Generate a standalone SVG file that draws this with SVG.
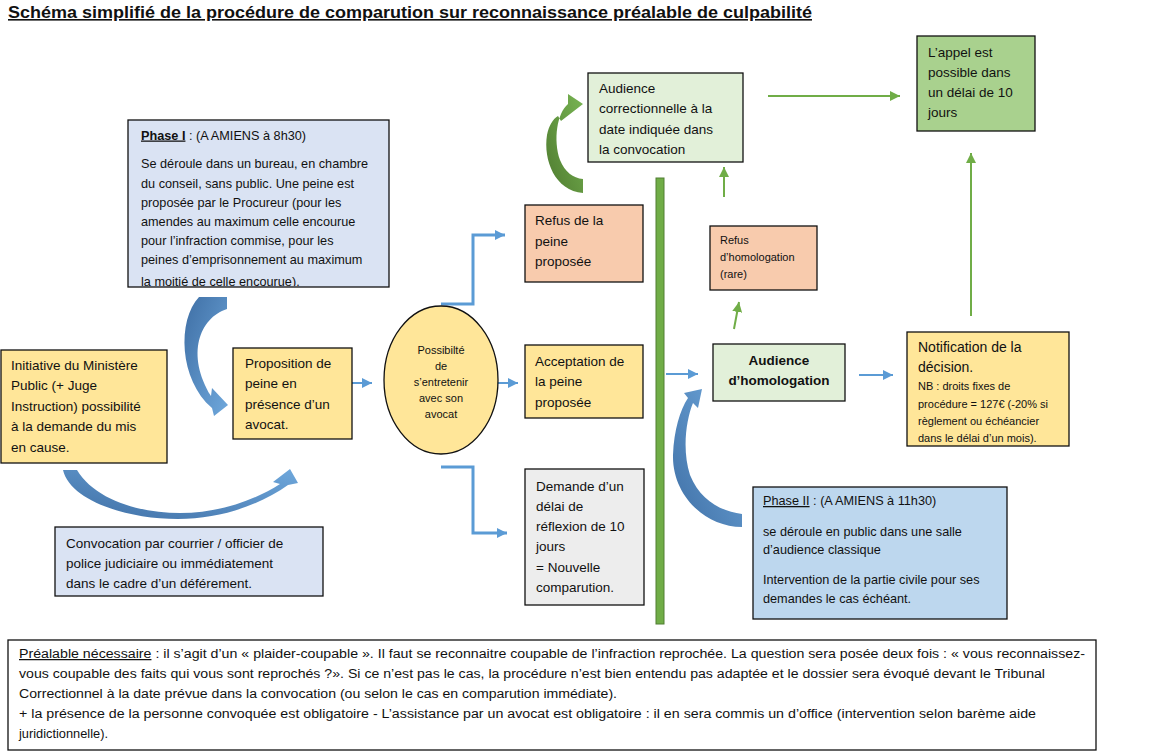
<svg xmlns="http://www.w3.org/2000/svg" width="1152" height="754" viewBox="0 0 1152 754">
<style>
text{font-family:"Liberation Sans",Arial,sans-serif;fill:#111;}
.t{font-size:13.5px;}
.s{font-size:12.7px;}
.xs{font-size:11px;}
.b{stroke:#111;stroke-width:1.3;}
.blue{fill:#dae3f3;}
.blue2{fill:#bdd7ee;}
.yel{fill:#ffe699;}
.peach{fill:#f8cbad;}
.lgreen{fill:#e2f0d9;}
.green{fill:#a9d18e;}
.gray{fill:#ededed;}
.cb{fill:none;stroke:#5b9bd5;stroke-width:2;}
.cb3{fill:none;stroke:#5b9bd5;stroke-width:3;}
.cg{fill:none;stroke:#70ad47;stroke-width:2;}
</style>
<defs>
<marker id="hb" markerUnits="userSpaceOnUse" markerWidth="11" markerHeight="11" refX="10" refY="5" orient="auto"><path d="M0,0 L10,5 L0,10 z" fill="#5b9bd5"/></marker>
<marker id="hg" markerUnits="userSpaceOnUse" markerWidth="11" markerHeight="11" refX="10" refY="5" orient="auto"><path d="M0,0 L10,5 L0,10 z" fill="#70ad47"/></marker>
<linearGradient id="gb" x1="0" y1="0" x2="1" y2="1"><stop offset="0" stop-color="#3f6fa5"/><stop offset="1" stop-color="#6fa8dc"/></linearGradient>
<linearGradient id="gb2" x1="0" y1="1" x2="1" y2="0"><stop offset="0" stop-color="#3f6fa5"/><stop offset="1" stop-color="#6fa8dc"/></linearGradient>
<linearGradient id="gg" x1="0" y1="1" x2="1" y2="0"><stop offset="0" stop-color="#4e7a2f"/><stop offset="1" stop-color="#78b553"/></linearGradient>
<clipPath id="c1"><rect x="128" y="120" width="261" height="166"/></clipPath>
</defs>

<text x="8" y="18" font-size="16" font-weight="bold" text-decoration="underline" textLength="804" lengthAdjust="spacingAndGlyphs">Schéma simplifié de la procédure de comparution sur reconnaissance préalable de culpabilité</text>

<g id="connectors">
<path class="cb" d="M338,383 L372,383" marker-end="url(#hb)"/>
<path class="cb" d="M483,383 L518,383" marker-end="url(#hb)"/>
<path class="cb3" d="M441,304 L473,304 L473,235 L505,235" marker-end="url(#hb)"/>
<path class="cb3" d="M441,467 L473,467 L473,533 L507,533" marker-end="url(#hb)"/>
<path class="cb" d="M666,374 L698,374" marker-end="url(#hb)"/>
<path class="cb" d="M859,375 L893,375" marker-end="url(#hb)"/>
<path class="cg" d="M734,329 L739,302" marker-end="url(#hg)"/>
<path class="cg" d="M724,197 L724,167" marker-end="url(#hg)"/>
<path class="cg" d="M768,96 L900,96" marker-end="url(#hg)"/>
<path class="cg" d="M971,316 L971,153" marker-end="url(#hg)"/>
<path fill="url(#gb)" d="M199,297 L227,297 L227,309 C199,318 186,355 211,396 L212,388 L228,405 L214,416 L212,408 C179,380 177,320 199,297 Z"/>
<path fill="url(#gb2)" d="M63,470 L77,470 C95,500 140,513 180,513 C220,513 255,500 280,484 L273,482 L290,469 L298,483 L288,485 C260,505 220,519 178,519 C125,519 70,500 63,470 Z"/>
<path fill="url(#gg)" d="M583,179 L583,193 C555,191 543,160 547,135 C549,125 553,119 558,116 L561,121 L583,104 L568,94 L568,104 C557,113 553,140 560,160 C565,172 573,178 583,179 Z"/>
<path fill="url(#gb2)" d="M742,514 L742,527 C705,527 672,495 673,455 C674,430 680,410 688,398 L684,393 L702,389 L698,408 L693,403 C686,420 682,450 690,475 C700,500 720,511 742,514 Z"/>
<rect x="656" y="178" width="8" height="446" fill="#70ad47" stroke="#507e32" stroke-width="1"/>
</g>

<g id="phase1">
<rect class="b blue" x="128" y="120" width="261" height="167"/>
<g clip-path="url(#c1)">
<text class="s" x="141" y="139.5"><tspan font-weight="bold" text-decoration="underline">Phase I</tspan> : (A AMIENS à 8h30)</text>
<text class="s" x="141" y="168">Se déroule dans un bureau, en chambre</text>
<text class="s" x="141" y="188">du conseil, sans public. Une peine est</text>
<text class="s" x="141" y="207">proposée par le Procureur (pour les</text>
<text class="s" x="141" y="226">amendes au maximum celle encourue</text>
<text class="s" x="141" y="245">pour l’infraction commise, pour les</text>
<text class="s" x="141" y="264">peines d’emprisonnement au maximum</text>
<text class="s" x="141" y="285.5">la moitié de celle encourue).</text>
</g>
</g>

<g id="initiative">
<rect class="b yel" x="1" y="350" width="166" height="113"/>
<text class="t" x="11" y="370">Initiative du Ministère</text>
<text class="t" x="11" y="390">Public (+ Juge</text>
<text class="t" x="11" y="411">Instruction) possibilité</text>
<text class="t" x="11" y="431">à la demande du mis</text>
<text class="t" x="11" y="452">en cause.</text>
</g>

<g id="proposition">
<rect class="b yel" x="233" y="348" width="119" height="91"/>
<text class="t" x="245" y="368">Proposition de</text>
<text class="t" x="245" y="388">peine en</text>
<text class="t" x="245" y="409">présence d’un</text>
<text class="t" x="245" y="429">avocat.</text>
</g>

<g id="convocation">
<rect class="b blue" x="55" y="527" width="268" height="69"/>
<text class="t" x="66" y="548">Convocation par courrier / officier de</text>
<text class="t" x="66" y="568">police judiciaire ou immédiatement</text>
<text class="t" x="66" y="588">dans le cadre d’un déférement.</text>
</g>

<g id="avocat">
<ellipse class="b yel" cx="441" cy="380" rx="57" ry="74"/>
<text class="xs" x="441" y="354" text-anchor="middle">Possibilté</text>
<text class="xs" x="441" y="370" text-anchor="middle">de</text>
<text class="xs" x="441" y="386" text-anchor="middle">s’entretenir</text>
<text class="xs" x="441" y="402" text-anchor="middle">avec son</text>
<text class="xs" x="441" y="418" text-anchor="middle">avocat</text>
</g>

<g id="refus">
<rect class="b peach" x="525" y="205" width="118" height="77"/>
<text class="t" x="535" y="225">Refus de la</text>
<text class="t" x="535" y="246">peine</text>
<text class="t" x="535" y="266">proposée</text>
</g>

<g id="acceptation">
<rect class="b yel" x="525" y="345" width="118" height="73"/>
<text class="t" x="535" y="366">Acceptation de</text>
<text class="t" x="535" y="386">la peine</text>
<text class="t" x="535" y="407">proposée</text>
</g>

<g id="demande">
<rect class="b gray" x="525" y="469" width="119" height="136"/>
<text class="t" x="536" y="491">Demande d’un</text>
<text class="t" x="536" y="511">délai de</text>
<text class="t" x="536" y="531">réflexion de 10</text>
<text class="t" x="536" y="551">jours</text>
<text class="t" x="536" y="572">= Nouvelle</text>
<text class="t" x="536" y="592">comparution.</text>
</g>

<g id="audience-correctionnelle">
<rect class="b lgreen" x="588" y="73" width="155" height="89"/>
<text class="t" x="599" y="93">Audience</text>
<text class="t" x="599" y="113">correctionnelle à la</text>
<text class="t" x="599" y="134">date indiquée dans</text>
<text class="t" x="599" y="154">la convocation</text>
</g>

<g id="appel">
<rect class="b green" x="917" y="36" width="118" height="95"/>
<text class="t" x="928" y="57">L’appel est</text>
<text class="t" x="928" y="77">possible dans</text>
<text class="t" x="928" y="97">un délai de 10</text>
<text class="t" x="928" y="117">jours</text>
</g>

<g id="refus-homologation">
<rect class="b peach" x="710" y="226" width="107" height="64"/>
<text class="xs" x="720" y="244">Refus</text>
<text class="xs" x="720" y="261">d’homologation</text>
<text class="xs" x="720" y="278">(rare)</text>
</g>

<g id="audience-homologation">
<rect class="b lgreen" x="713" y="344" width="132" height="57"/>
<text class="t" x="779" y="365" text-anchor="middle" font-weight="bold">Audience</text>
<text class="t" x="779" y="385" text-anchor="middle" font-weight="bold">d’homologation</text>
</g>

<g id="notification">
<rect class="b yel" x="907" y="332" width="162" height="114"/>
<text x="918" y="352" font-size="14">Notification de la</text>
<text x="918" y="372" font-size="14">décision.</text>
<text class="xs" x="918" y="390">NB : droits fixes de</text>
<text class="xs" x="918" y="408">procédure = 127€ (-20% si</text>
<text class="xs" x="918" y="425">règlement ou échéancier</text>
<text class="xs" x="918" y="442">dans le délai d’un mois).</text>
</g>

<g id="phase2">
<rect class="b blue2" x="753" y="487" width="254" height="132"/>
<text class="s" x="763" y="505"><tspan text-decoration="underline">Phase II</tspan> : (A AMIENS à 11h30)</text>
<text class="s" x="763" y="536">se déroule en public dans une salle</text>
<text class="s" x="763" y="554">d’audience classique</text>
<text class="s" x="763" y="584">Intervention de la partie civile pour ses</text>
<text class="s" x="763" y="603">demandes le cas échéant.</text>
</g>

<g id="prealable">
<rect x="8" y="640" width="1088" height="110" fill="#fff" stroke="#111" stroke-width="1.3"/>
<text x="19" y="658" font-size="12.5" textLength="1066" lengthAdjust="spacingAndGlyphs"><tspan text-decoration="underline">Préalable nécessaire</tspan> : il s’agit d’un « plaider-coupable ». Il faut se reconnaitre coupable de l’infraction reprochée. La question sera posée deux fois : « vous reconnaissez-</text>
<text x="19" y="678" font-size="12.5" textLength="1026" lengthAdjust="spacingAndGlyphs">vous coupable des faits qui vous sont reprochés ?». Si ce n’est pas le cas, la procédure n’est bien entendu pas adaptée et le dossier sera évoqué devant le Tribunal</text>
<text x="19" y="698" font-size="12.5" textLength="598" lengthAdjust="spacingAndGlyphs">Correctionnel à la date prévue dans la convocation (ou selon le cas en comparution immédiate).</text>
<text x="19" y="718" font-size="12.5" textLength="1017" lengthAdjust="spacingAndGlyphs">+ la présence de la personne convoquée est obligatoire - L’assistance par un avocat est obligatoire : il en sera commis un d’office (intervention selon barème aide</text>
<text x="19" y="738" font-size="12.5" textLength="89" lengthAdjust="spacingAndGlyphs">juridictionnelle).</text>
</g>
</svg>
